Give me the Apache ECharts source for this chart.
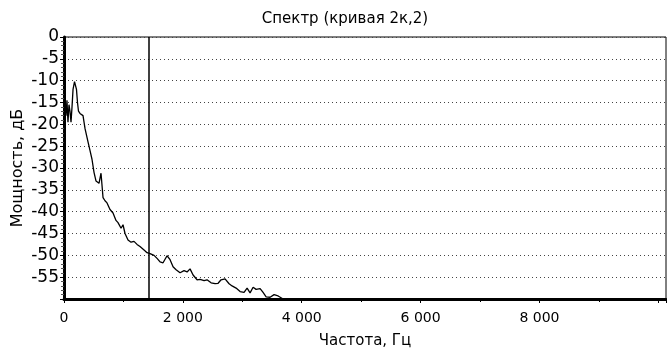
<!DOCTYPE html>
<html><head><meta charset="utf-8">
<script src="https://cdn.jsdelivr.net/npm/echarts@6/dist/echarts.min.js"></script>
<style>html,body{margin:0;padding:0;background:#fff}#c{width:667px;height:351px}</style>
</head><body><div id="c"></div>
<script>
const titleText = 'Спектр (кривая 2к,2)';
const xName = 'Частота, Гц';
const yName = 'Мощность, дБ';
const freqHz = [17,34,50,67,84,101,118,135,152,177,194,210,227,244,269,320,354,404,438,471,505,539,589,623,640,657,690,724,774,825,875,909,960,993,1027,1077,1128,1178,1229,1279,1347,1397,1448,1515,1566,1616,1667,1734,1785,1835,1886,1953,2020,2071,2121,2172,2239,2290,2357,2407,2475,2542,2593,2643,2710,2778,2828,2896,2963,3030,3081,3131,3182,3232,3300,3350,3401,3468,3535,3603,3687];
const powerDb = [-16,-18,-14.5,-19.5,-15.5,-17,-19.5,-16,-12,-10.2,-10,-12,-15,-17,-17.5,-18,-21,-24,-26,-28,-31,-33,-33.5,-31.2,-34,-36.8,-37.5,-38,-39.5,-40.3,-42,-42.5,-43.8,-43,-45,-46.5,-47,-46.8,-47.5,-48,-48.8,-49.4,-49.6,-50,-50.7,-51.5,-51.7,-50.1,-51,-52.6,-53.3,-54,-53.5,-53.8,-53.1,-54.5,-55.6,-55.5,-55.8,-55.6,-56.3,-56.5,-56.4,-55.6,-55.4,-56.5,-57,-57.5,-58.3,-58.5,-57.5,-58.6,-57.3,-57.8,-57.6,-58.5,-59.5,-59.6,-59,-59.3,-60];
const cursorHz = 1420;
const xTicks = [0, 2000, 4000, 6000, 8000];

const chart = echarts.init(document.getElementById('c'));
chart.setOption({
  animation: false,
  title: {text: titleText, left: 340, top: 7, textAlign: 'center',
    textStyle: {fontFamily: 'DejaVu Sans', fontSize: 15, fontWeight: 'normal', color: '#000'}},
  grid: {left: 64, right: 1, top: 37, bottom: 52, show: true, borderColor: '#000', borderWidth: 1,
    containLabel: false, outerBoundsMode: 'none'},
  xAxis: {type: 'value', min: 0, max: 10130, interval: 2000,
    name: xName, nameLocation: 'middle', nameGap: 35, nameMoveOverlap: false,
    nameTextStyle: {fontFamily: 'DejaVu Sans', fontSize: 15, color: '#000'},
    axisLine: {onZero: false, lineStyle: {color: '#000', width: 3}},
    axisTick: {show: true, length: 4, lineStyle: {color: '#000'}},
    minorTick: {show: true, splitNumber: 2, length: 3, lineStyle: {color: '#000'}},
    splitLine: {show: false},
    axisLabel: {showMaxLabel: false, margin: 12, fontFamily: 'DejaVu Sans', fontSize: 14, color: '#000',
      formatter: v => xTicks.indexOf(v) >= 0 ? (v === 0 ? '0' : String(v).replace(/(\d)(?=(\d{3})+$)/g, '$1 ')) : ''}},
  yAxis: {type: 'value', min: -60, max: 0, interval: 5,
    name: yName, nameLocation: 'middle', nameGap: 38, nameRotate: 90, nameMoveOverlap: false,
    nameTextStyle: {fontFamily: 'DejaVu Sans', fontSize: 16, color: '#000'},
    axisLine: {show: true, lineStyle: {color: '#000', width: 3}},
    axisTick: {show: true, length: 4, lineStyle: {color: '#000'}},
    minorTick: {show: true, splitNumber: 5, length: 3, lineStyle: {color: '#555'}},
    splitLine: {show: true, lineStyle: {color: '#444', type: [1, 3], width: 1}},
    axisLabel: {margin: 5, fontFamily: 'DejaVu Sans', fontSize: 17, color: '#000',
      formatter: v => v === -60 ? '' : String(v)}},
  series: [{type: 'line', data: freqHz.map((f, i) => [f, powerDb[i]]), showSymbol: false,
    lineStyle: {color: '#000', width: 1.3}, clip: true,
    markLine: {silent: true, symbol: 'none', label: {show: false},
      lineStyle: {color: '#000', width: 1.5, type: 'solid'},
      data: [{xAxis: cursorHz}]}}]
});
</script></body></html>
